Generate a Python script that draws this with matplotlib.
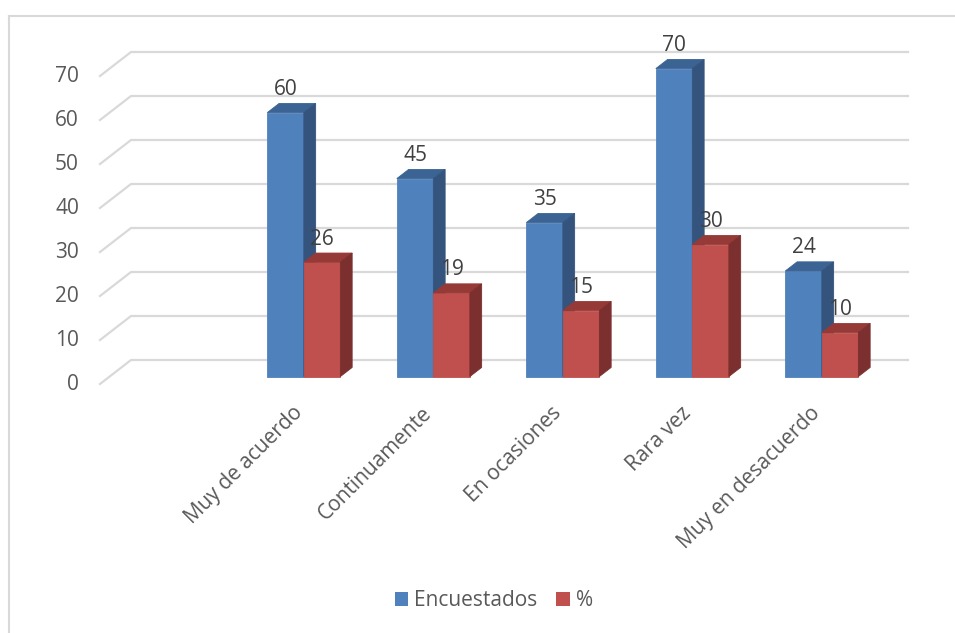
import matplotlib
matplotlib.use("Agg")
import matplotlib.pyplot as plt
from matplotlib.patches import Polygon, Patch
from matplotlib.transforms import IdentityTransform
from matplotlib.lines import Line2D

# Data
categories = ["", "Muy de acuerdo", "Continuamente", "En ocasiones", "Rara vez", "Muy en desacuerdo"]
encuestados = [None, 60, 45, 35, 70, 24]
porcentaje = [None, 26, 19, 15, 30, 10]
y_ticks = [0, 10, 20, 30, 40, 50, 60, 70]
series_names = ["Encuestados", "%"]

plt.rcParams["font.family"] = ["Open Sans", "DejaVu Sans"]
FS = 15

W, H, DPI = 955, 633, 100
fig = plt.figure(figsize=(W / DPI, H / DPI), dpi=DPI)

# Front plane of the 3D plot area (pixel layout)
left_px, right_px = 100, 877
base_px, top_px = 384, 76
ax = fig.add_axes([left_px / W, (H - base_px) / H, (right_px - left_px) / W, (base_px - top_px) / H])
ax.set_xlim(-0.5, len(categories) - 0.5)
ax.set_ylim(0, 70)
ax.axis("off")

# Oblique depth offset (display pixels for full depth)
DEPTH_X, DEPTH_Y = 31, 24
D0, D1 = 0.31, 0.69
BW = 0.282

grid_col = "#D9D9D9"
tick_col = "#595959"
label_col = "#404040"


def disp(x, v, d):
    px, py = ax.transData.transform((x, v))
    return (px + DEPTH_X * d, py + DEPTH_Y * d)


# Back wall and side wall gridlines
x_lo, x_hi = ax.get_xlim()
for v in y_ticks:
    p0 = disp(x_lo, v, 0)
    p1 = disp(x_lo, v, 1)
    p2 = disp(x_hi, v, 1)
    ln = Line2D([p0[0], p1[0], p2[0]], [p0[1], p1[1], p2[1]], color=grid_col, lw=1.6,
                transform=IdentityTransform(), zorder=1, solid_joinstyle="miter")
    fig.add_artist(ln)
    # tick label at the front-left corner
    fig.text(p0[0] - 21, p0[1], str(v), transform=IdentityTransform(), ha="right", va="center",
             fontsize=FS, color=tick_col)

colors = {
    "blue": ("#4F81BD", "#3B6393", "#34547E"),
    "red": ("#C0504D", "#963A37", "#7B2F2E"),
}


def bar3d(x0, x1, h, palette, z):
    front, top, side = palette
    faces = [
        ([disp(x0, 0, D0), disp(x1, 0, D0), disp(x1, h, D0), disp(x0, h, D0)], front),
        ([disp(x0, h, D0), disp(x1, h, D0), disp(x1, h, D1), disp(x0, h, D1)], top),
        ([disp(x1, 0, D0), disp(x1, 0, D1), disp(x1, h, D1), disp(x1, h, D0)], side),
    ]
    for pts, c in faces:
        fig.add_artist(Polygon(pts, closed=True, facecolor=c, edgecolor=c, lw=0.6,
                               transform=IdentityTransform(), zorder=z))


for i, (cat, a, b) in enumerate(zip(categories, encuestados, porcentaje)):
    if a is not None:
        bar3d(i - BW, i, a, colors["blue"], 3 + i * 0.01)
        bar3d(i, i + BW, b, colors["red"], 3.005 + i * 0.01)
        # value labels above the front top edge
        for xc, v in ((i - BW / 2, a), (i + BW / 2, b)):
            px, py = disp(xc, v, D0)
            fig.text(px, py + 23, str(v), transform=IdentityTransform(), ha="center", va="center",
                     fontsize=FS, color=label_col, zorder=10)
    if cat:
        px, py = disp(i, 0, D0)
        fig.text(px - 12, py - 26, cat, transform=IdentityTransform(), rotation=45,
                 rotation_mode="anchor", ha="right", va="top", fontsize=FS, color=tick_col)

# Chart frame
fig.add_artist(Line2D([8.5, W], [H - 15.5, H - 15.5], color=grid_col, lw=1.5, transform=IdentityTransform()))
fig.add_artist(Line2D([8.5, 8.5], [0, H - 15.5], color=grid_col, lw=1.5, transform=IdentityTransform()))

# Legend
handles = [Patch(facecolor=colors["blue"][0], edgecolor="none"),
           Patch(facecolor=colors["red"][0], edgecolor="none")]
leg = fig.legend(handles, series_names, loc="center", bbox_to_anchor=(494 / W, (H - 601) / H),
                 ncol=2, frameon=False, fontsize=FS, handlelength=0.65, handleheight=0.65,
                 handletextpad=0.3, columnspacing=0.9, labelcolor=tick_col)

fig.savefig("out.png", dpi=DPI)
